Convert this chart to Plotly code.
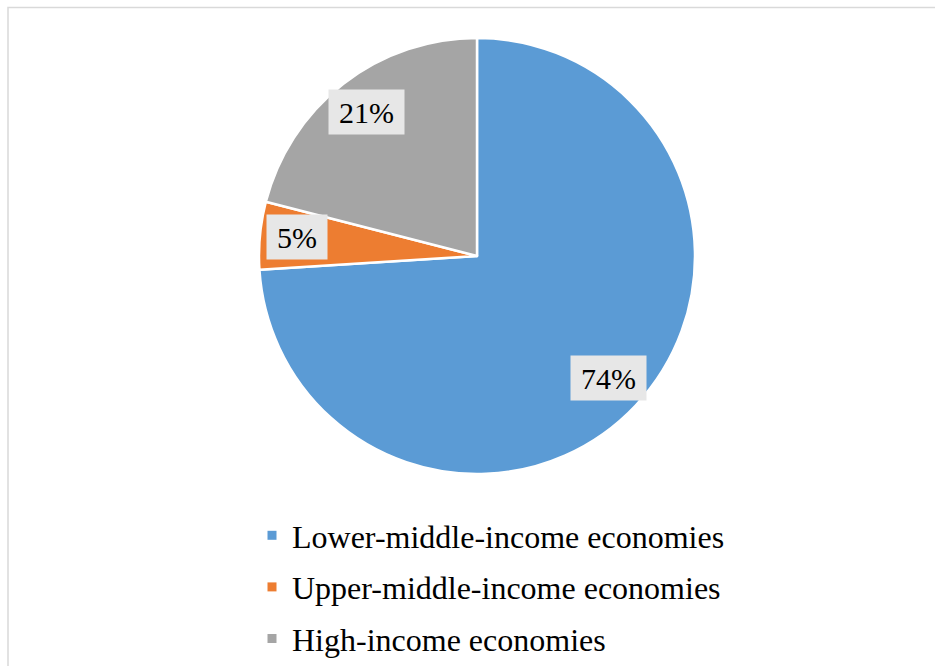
import math
import plotly.graph_objects as go

# Share of economies by income group
categories = ["Lower-middle-income economies", "Upper-middle-income economies", "High-income economies"]
shares = [74, 5, 21]
colors = ["#5B9BD5", "#ED7D31", "#A5A5A5"]

W, H = 935, 666
FONT = "Liberation Serif, Times New Roman, serif"

# pie geometry in pixels
cx, cy, r = 477, 256, 218
label_frac = 0.83
label_size = 30

fig = go.Figure()

fig.add_trace(go.Pie(
    labels=categories,
    values=shares,
    marker=dict(colors=colors, line=dict(color="white", width=2.5)),
    sort=False,
    direction="clockwise",
    rotation=0,
    textinfo="none",
    hoverinfo="label+percent",
    showlegend=False,
    domain=dict(x=[(cx - r) / W, (cx + r) / W], y=[1 - (cy + r) / H, 1 - (cy - r) / H]),
))

# legend entries with small square swatches
for i, (name, col) in enumerate(zip(categories, colors)):
    fig.add_trace(go.Scatter(
        x=[None], y=[None], mode="markers", name=name,
        marker=dict(symbol="square", size=9, color=col),
        legendgroup=f"g{i}", hoverinfo="skip",
    ))

# boxed percentage labels placed along each slice's mid-angle
total = sum(shares)
cum = 0
for v in shares:
    mid = (cum + v / 2) / total * 2 * math.pi
    cum += v
    px = cx + label_frac * r * math.sin(mid)
    py = cy - label_frac * r * math.cos(mid) - 1.5
    txt = f"{round(v / total * 100)}%"
    ndig = len(txt) - 1
    box_w = 20 + label_size * (0.5 * ndig + 0.833)
    fig.add_annotation(
        x=px / W, y=1 - py / H, xref="paper", yref="paper",
        text=txt, showarrow=False,
        font=dict(family=FONT, size=label_size, color="black"),
        bgcolor="#E7E7E7", width=box_w, height=44, borderpad=0,
        xanchor="center", yanchor="middle",
    )

# chart area border
fig.add_shape(type="rect", xref="paper", yref="paper",
              x0=8 / W, x1=1.02, y0=-0.02, y1=1 - 7.5 / H,
              line=dict(color="#D9D9D9", width=1.5), fillcolor="rgba(0,0,0,0)")

fig.update_layout(
    width=W, height=H,
    margin=dict(l=0, r=0, t=0, b=0),
    paper_bgcolor="white", plot_bgcolor="white",
    font=dict(family=FONT),
    xaxis=dict(visible=False), yaxis=dict(visible=False),
    showlegend=True,
    legend=dict(
        x=252 / W, y=1 - 508 / H, xanchor="left", yanchor="top",
        font=dict(family=FONT, size=32, color="black"),
        traceorder="grouped", tracegroupgap=7,
        bgcolor="rgba(0,0,0,0)", itemclick=False,
    ),
)

fig.write_html("out.html")
